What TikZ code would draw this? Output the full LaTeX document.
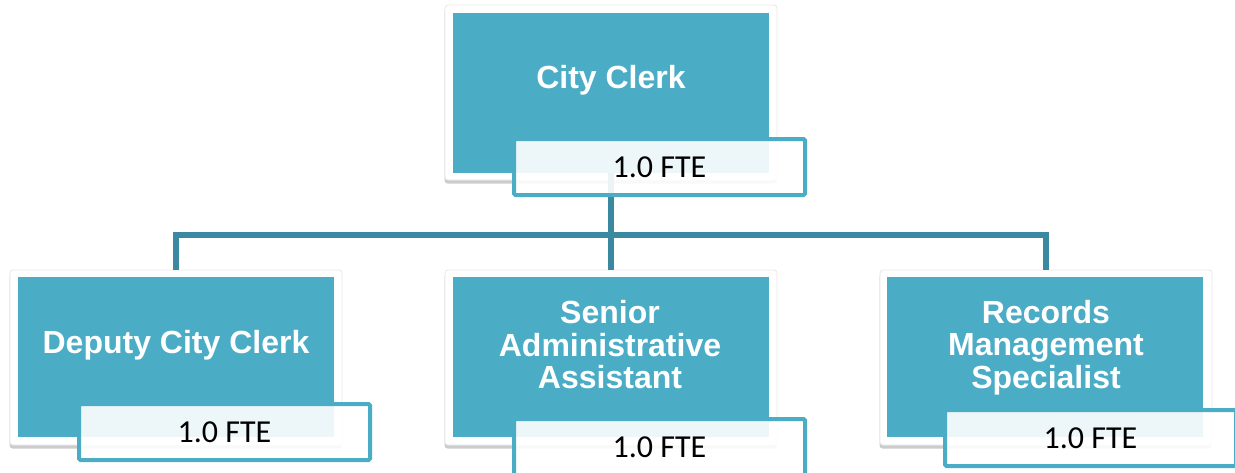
\documentclass[tikz,border=0pt]{standalone}
\usepackage{fontspec}
\setmainfont{Liberation Sans}
\newfontfamily\fteFont{Carlito}
\usetikzlibrary{shadows}
\definecolor{teal1}{HTML}{4BACC6}
\definecolor{conncol}{HTML}{3A89A0}
\tikzset{
  frame/.style={fill=white, draw=black!9, line width=0.8pt, rounded corners=3pt, minimum width=332pt, minimum height=175pt, inner sep=0pt,
    drop shadow={shadow xshift=-0.5pt, shadow yshift=-3.5pt, opacity=0.2, fill=black}},
  tealbox/.style={fill=teal1, minimum width=316pt, minimum height=160pt, inner sep=0pt},
  title/.style={text=white, font=\fontsize{32}{32.5}\selectfont\bfseries, align=center, inner sep=0pt},
  ftebox/.style={draw=teal1, line width=4pt, fill=white, fill opacity=0.9, text opacity=1, rounded corners=1.5pt,
    minimum width=291pt, minimum height=56pt, inner sep=0pt},
  ftetext/.style={font=\fteFont\fontsize{32}{32}\selectfont, text=black, inner sep=0pt},
  conn/.style={draw=conncol, line width=5.5pt}
}
\begin{document}
\begin{tikzpicture}[x=1pt,y=-1pt]
\useasboundingbox (0,0) rectangle (1235,472);
\clip (0,0) rectangle (1235,472);
\coordinate (bus) at (611,235);
% frames
\node[frame] (ccf) at (611,92.5) {};
\node[frame] (dcf) at (176,357.5) {};
\node[frame] (saf) at (611,357.5) {};
\node[frame] (rmf) at (1046,357.5) {};
% connectors
\draw[conn] (ccf.center) -- (saf.north);
\draw[conn, line join=miter] (dcf.north) -- (dcf.north |- bus) -- (rmf.north |- bus) -- (rmf.north);
% teal boxes
\node[tealbox] (cc) at (611,93) {};
\node[tealbox] (dc) at (176,357) {};
\node[tealbox] (sa) at (611,357) {};
\node[tealbox] (rm) at (1045,357) {};
% titles
\node[title] (cct) at (611,80) {City Clerk};
\node[title] (dct) at (176,345) {Deputy City Clerk};
\node[title] (sat) at (610,345) {Senior\\Administrative\\Assistant};
\node[title] (rmt) at (1046,347.5) {Records\\Management\\Specialist};
% FTE boxes
\node[ftebox] (ccb) at (659.5,167) {};
\node[ftebox] (dcb) at (224.5,432) {};
\node[ftebox] (sab) at (659.5,447) {};
\node[ftebox] (rmb) at (1090.5,438) {};
\node[ftetext] at (ccb.center) {1.0 FTE};
\node[ftetext] at (dcb.center) {1.0 FTE};
\node[ftetext] at (sab.center) {1.0 FTE};
\node[ftetext] at (rmb.center) {1.0 FTE};
\end{tikzpicture}
\end{document}
